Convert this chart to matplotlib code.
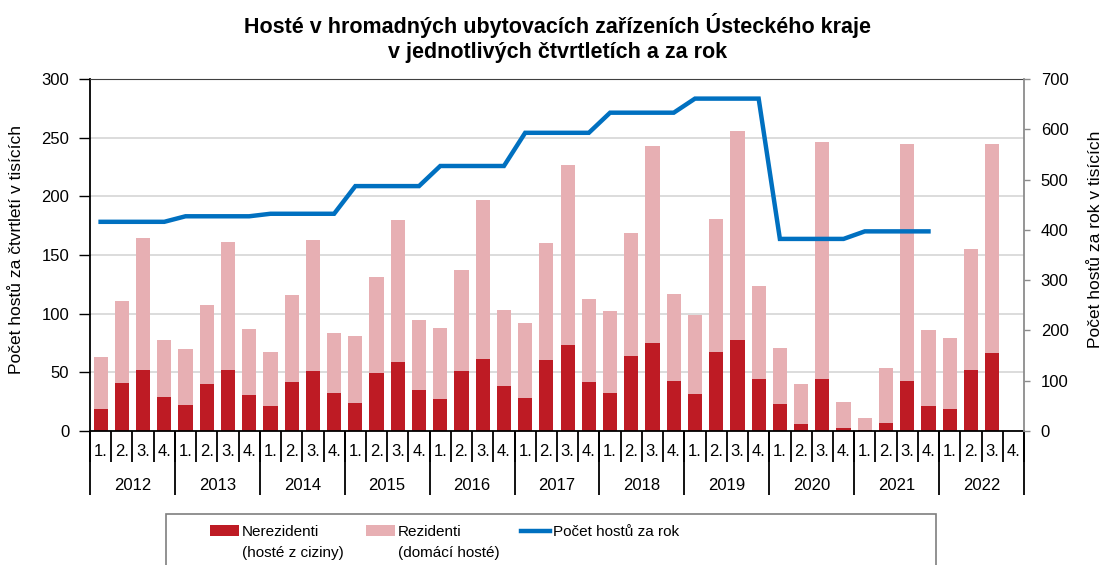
import numpy as np
import matplotlib.pyplot as plt
from matplotlib.patches import Rectangle

plt.rcParams['font.family'] = ['Liberation Sans', 'DejaVu Sans']

years = ['2012', '2013', '2014', '2015', '2016', '2017', '2018', '2019', '2020', '2021', '2022']
quarters = ['1.', '2.', '3.', '4.']

# tisíce hostů za čtvrtletí
nerezidenti = [19.1, 41.3, 51.8, 28.7,
               21.9, 39.9, 51.8, 30.5,
               21.1, 42.1, 51.0, 32.2,
               23.9, 49.8, 58.6, 35.3,
               27.0, 51.2, 61.5, 38.4,
               27.9, 60.6, 73.4, 41.6,
               32.2, 64.0, 75.1, 42.4,
               31.3, 67.2, 77.4, 44.4,
               22.8, 5.7, 44.1, 2.3,
               0.6, 6.5, 42.4, 21.1,
               18.8, 52.1, 66.3, np.nan]
rezidenti = [44.1, 69.1, 112.4, 48.7,
             47.6, 67.4, 109.6, 56.3,
             46.1, 74.0, 112.1, 51.5,
             56.9, 81.4, 121.0, 58.9,
             61.2, 86.3, 135.5, 64.9,
             64.0, 99.7, 153.2, 70.6,
             70.0, 105.1, 167.7, 74.6,
             67.2, 113.6, 178.5, 79.1,
             47.8, 34.2, 202.4, 22.5,
             10.2, 47.3, 202.4, 64.9,
             60.1, 102.8, 178.5, np.nan]
# tisíce hostů za rok
rocne = [416, 427, 432, 487, 527, 593, 633, 661, 382, 397, np.nan]

c_ner = '#BE1B24'
c_rez = '#E7AFB3'
c_line = '#0070C0'

n = len(nerezidenti)
x = np.arange(n)
rok_q = np.repeat(rocne, 4)

fig = plt.figure(figsize=(11.03, 5.65), dpi=100)
ax = fig.add_axes([90/1103, 1-431/565, 934/1103, 352/565])
ax2 = ax.twinx()

ax.set_axisbelow(True)
ax.yaxis.grid(True, color='#D9D9D9', lw=1.3)
ax.bar(x, nerezidenti, width=0.67, color=c_ner, label='Nerezidenti')
ax.bar(x, rezidenti, width=0.67, bottom=nerezidenti, color=c_rez, label='Rezidenti')
ax2.plot(x, rok_q, color=c_line, lw=3.2, solid_joinstyle='miter', label='Počet hostů za rok')

ax.set_xlim(-0.5, n - 0.5)
ax.set_ylim(0, 300)
ax.set_yticks(np.arange(0, 301, 50))
ax2.set_ylim(0, 700)
ax2.set_yticks(np.arange(0, 701, 100))

ax.spines['top'].set_color('#404040')
ax.spines['left'].set_color('black')
ax.spines['bottom'].set_color('black')
ax.spines['right'].set_visible(False)
ax2.spines['right'].set_color('#8C8C8C')
ax2.spines['right'].set_linewidth(1.3)
ax2.spines['top'].set_visible(False)
ax2.spines['left'].set_visible(False)
ax2.spines['bottom'].set_visible(False)
ax.spines['left'].set_linewidth(1.3)
ax.spines['bottom'].set_linewidth(1.3)

ax.tick_params(axis='y', length=8, width=1, pad=7, labelsize=12, colors='black')
ax2.tick_params(axis='y', length=4, width=1, color='#8C8C8C', pad=8, labelsize=12, labelcolor='black')

# čtvrtletí
ax.set_xticks(x)
ax.set_xticklabels(quarters * len(years), fontsize=12)
ax.tick_params(axis='x', which='major', length=0, pad=9)
ax.set_xticks(np.arange(-0.5, n, 1), minor=True)
ax.tick_params(axis='x', which='minor', length=22, width=1.3, color='black')

# roky
sec = ax.secondary_xaxis('bottom')
sec.spines['bottom'].set_visible(False)
sec.set_xticks(np.arange(-0.5, n, 4))
sec.set_xticklabels([])
sec.tick_params(axis='x', which='major', length=46, width=1.3, color='black')
sec.set_xticks(np.arange(1.5, n, 4), minor=True)
sec.set_xticklabels(years, minor=True, fontsize=12)
sec.tick_params(axis='x', which='minor', length=0, pad=34)

fig.text(558/1103, 1-38/565,
         'Hosté v hromadných ubytovacích zařízeních Ústeckého kraje\nv jednotlivých čtvrtletích a za rok',
         ha='center', va='center', fontsize=15.5, fontweight='bold', linespacing=1.2)
fig.text(17/1103, 1-250/565, 'Počet hostů za čtvrtletí v tisících', rotation=90,
         ha='center', va='center', fontsize=12.5)
fig.text(1095/1103, 1-239/565, 'Počet hostů za rok v tisících', rotation=90,
         ha='center', va='center', fontsize=12.5)

# legenda
fig.patches.append(Rectangle((166/1103, -0.05), 770/1103, 0.05 + 1-514/565,
                             transform=fig.transFigure, fill=False, edgecolor='#7F7F7F', lw=1.2))
h1, l1 = ax.get_legend_handles_labels()
h2, l2 = ax2.get_legend_handles_labels()
leg_x = [210, 366, 521]
druhy_radek = ['(hosté z ciziny)', '(domácí hosté)', None]
fig.canvas.draw()
r = fig.canvas.get_renderer()
for h, lab, lx, s2 in zip(h1 + h2, l1 + l2, leg_x, druhy_radek):
    leg = fig.legend([h], [lab], frameon=False, loc='upper left',
                     bbox_to_anchor=(lx/1103, 1-525/565), fontsize=11,
                     handlelength=1.9, handletextpad=0.2, borderaxespad=0, borderpad=0)
    fig.canvas.draw()
    if s2:
        bb = leg.get_texts()[0].get_window_extent(r)
        fig.text(bb.x0/fig.bbox.width, (bb.y0 - 21)/fig.bbox.height, s2, fontsize=11,
                 ha='left', va='bottom')

fig.savefig('out.png', dpi=100)
